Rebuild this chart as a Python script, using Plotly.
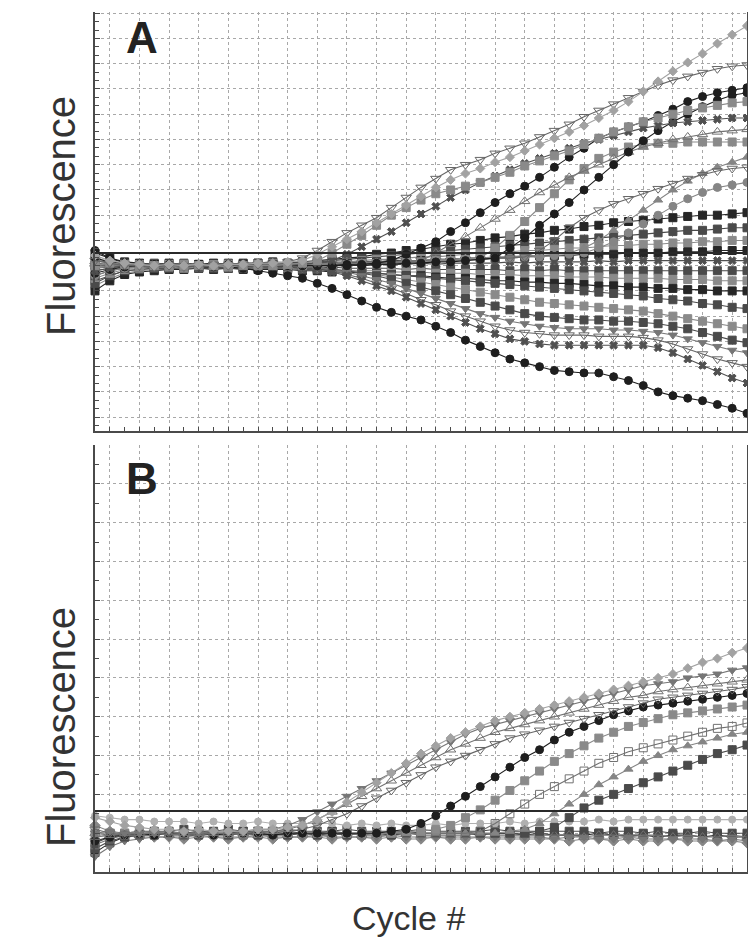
import plotly.graph_objects as go
from plotly.subplots import make_subplots

# ---------------- data ----------------
CYCLES = list(range(1, 46))
THRESHOLD_A = 6.5
THRESHOLD_B = 1.57

# Panel A - rising curves
A_R0 = [6.4, 6.2, 6.1, 6.05, 6.0, 6.05, 6.0, 6.05, 6.0, 6.05, 6.05, 6.1, 6.1, 6.15, 6.2,
        6.45, 6.75, 7.05, 7.35, 7.7, 8.05, 8.4, 8.75, 9.1, 9.4, 9.65, 9.85, 10.1, 10.3, 10.55,
        10.8, 11.05, 11.3, 11.55, 11.85, 12.15, 12.5, 12.9, 13.3, 13.7, 14.05, 14.4, 14.8, 15.15, 15.5]
A_R1 = [6.2, 6.1, 6.0, 6.0, 5.95, 6.0, 6.0, 6.0, 6.05, 6.0, 6.05, 6.05, 6.1, 6.15, 6.3,
        6.6, 6.95, 7.3, 7.6, 7.9, 8.3, 8.7, 9.1, 9.45, 9.8, 10.0, 10.2, 10.45, 10.65, 10.85,
        11.1, 11.35, 11.6, 11.9, 12.15, 12.4, 12.65, 12.9, 13.15, 13.35, 13.5, 13.65, 13.8, 13.9, 13.95]
A_R2 = [6.0, 6.1, 6.05, 6.0, 6.0, 5.95, 6.0, 6.0, 6.0, 5.95, 6.0, 6.0, 6.0, 6.05, 6.1,
        6.2, 6.5, 6.85, 7.2, 7.6, 8.0, 8.3, 8.6, 8.85, 9.0, 9.15, 9.3, 9.5, 9.7, 9.95,
        10.15, 10.35, 10.55, 10.8, 11.05, 11.3, 11.5, 11.7, 11.85, 12.0, 12.15, 12.25, 12.35, 12.45, 12.5]
A_R3 = [5.8, 5.9, 6.0, 6.0, 6.05, 6.0, 6.0, 5.95, 6.0, 6.0, 6.0, 5.95, 6.0, 6.0, 6.05,
        6.1, 6.2, 6.45, 6.75, 7.05, 7.35, 7.7, 8.05, 8.35, 8.7, 9.0, 9.3, 9.55, 9.8, 10.05,
        10.25, 10.45, 10.65, 10.85, 11.0, 11.15, 11.3, 11.45, 11.55, 11.65, 11.7, 11.75, 11.8, 11.85, 11.85]
A_R4 = [6.3, 6.15, 6.05, 6.0, 6.0, 6.05, 6.0, 6.0, 6.0, 6.05, 6.0, 6.0, 6.0, 6.0, 6.0,
        6.0, 6.0, 6.0, 6.05, 6.1, 6.2, 6.45, 6.7, 6.95, 7.35, 7.7, 8.1, 8.5, 8.85, 9.15,
        9.5, 9.9, 10.3, 10.65, 11.05, 11.3, 11.5, 11.7, 11.95, 12.2, 12.5, 12.7, 12.85, 12.95, 13.05]
A_R5 = [5.7, 5.85, 5.95, 6.0, 6.0, 5.95, 6.0, 6.0, 6.0, 6.0, 5.95, 6.0, 6.0, 6.0, 6.0,
        6.0, 6.0, 6.05, 6.0, 6.05, 6.05, 6.1, 6.1, 6.15, 6.15, 6.2, 6.25, 6.3, 6.7, 7.1,
        7.6, 8.05, 8.5, 9.0, 9.5, 10.0, 10.5, 10.95, 11.35, 11.7, 12.0, 12.3, 12.55, 12.75, 12.85]
A_R6 = [6.1, 6.05, 6.0, 6.05, 6.0, 6.0, 6.0, 6.0, 5.95, 6.0, 6.0, 6.0, 6.05, 6.0, 6.0,
        6.0, 6.05, 6.05, 6.1, 6.1, 6.1, 6.15, 6.2, 6.5, 6.85, 7.15, 7.5, 7.85, 8.2, 8.55,
        8.9, 9.2, 9.5, 9.75, 10.0, 10.25, 10.5, 10.7, 10.85, 11.0, 11.1, 11.2, 11.3, 11.35, 11.4]
A_R7 = [5.9, 6.0, 6.0, 5.95, 6.0, 6.0, 6.05, 6.0, 6.0, 6.0, 6.0, 6.05, 6.0, 6.0, 6.0,
        6.05, 6.05, 6.05, 6.1, 6.1, 6.1, 6.15, 6.15, 6.2, 6.2, 6.25, 6.3, 6.7, 7.2, 7.75,
        8.3, 8.85, 9.4, 9.85, 10.25, 10.5, 10.7, 10.8, 10.85, 10.85, 10.9, 10.9, 10.9, 10.9, 10.9]
A_R8 = [6.0, 6.0, 6.05, 6.0, 6.0, 6.0, 5.95, 6.0, 6.0, 6.0, 6.0, 6.0, 6.0, 6.05, 6.0,
        6.05, 6.05, 6.1, 6.1, 6.1, 6.15, 6.15, 6.2, 6.2, 6.2, 6.25, 6.25, 6.3, 6.3, 6.35,
        6.6, 7.0, 7.5, 7.9, 8.2, 8.45, 8.65, 8.85, 9.05, 9.25, 9.45, 9.6, 9.75, 9.85, 9.9]
A_R9 = [6.2, 6.1, 6.0, 6.0, 6.0, 6.0, 6.0, 6.05, 6.0, 6.0, 6.0, 6.0, 6.0, 6.0, 6.05,
        6.05, 6.1, 6.1, 6.1, 6.15, 6.15, 6.2, 6.2, 6.25, 6.25, 6.3, 6.3, 6.35, 6.35, 6.4,
        6.4, 6.45, 6.5, 6.7, 7.0, 7.4, 7.8, 8.2, 8.6, 9.0, 9.35, 9.65, 9.9, 10.1, 10.3]
A_R10 = [5.6, 5.8, 5.9, 5.95, 6.0, 6.0, 6.0, 6.0, 6.0, 6.0, 6.05, 6.0, 6.0, 6.0, 6.0,
         6.0, 6.05, 6.05, 6.1, 6.1, 6.1, 6.15, 6.15, 6.2, 6.2, 6.25, 6.25, 6.3, 6.3, 6.35,
         6.35, 6.4, 6.45, 6.5, 6.7, 6.95, 7.3, 7.65, 8.0, 8.35, 8.65, 8.9, 9.1, 9.2, 9.3]

# Panel A - band around the baseline
A_B1 = [6.5, 6.3, 6.15, 6.1, 6.05, 6.1, 6.05, 6.05, 6.1, 6.05, 6.1, 6.1, 6.15, 6.1, 6.15,
        6.2, 6.25, 6.3, 6.35, 6.45, 6.5, 6.6, 6.65, 6.75, 6.85, 6.9, 7.0, 7.1, 7.15, 7.25,
        7.3, 7.4, 7.45, 7.55, 7.6, 7.7, 7.75, 7.8, 7.85, 7.9, 7.95, 8.0, 8.0, 8.05, 8.1]
A_B2 = [6.2, 6.15, 6.1, 6.05, 6.1, 6.05, 6.1, 6.05, 6.05, 6.1, 6.05, 6.1, 6.1, 6.1, 6.15,
        6.15, 6.2, 6.25, 6.3, 6.35, 6.4, 6.45, 6.5, 6.55, 6.6, 6.65, 6.7, 6.75, 6.8, 6.85,
        6.9, 6.95, 7.0, 7.05, 7.1, 7.15, 7.2, 7.25, 7.3, 7.35, 7.4, 7.4, 7.45, 7.5, 7.5]
A_B3 = [5.9, 6.0, 6.05, 6.05, 6.0, 6.05, 6.05, 6.0, 6.05, 6.05, 6.05, 6.05, 6.1, 6.05, 6.1,
        6.1, 6.15, 6.15, 6.2, 6.25, 6.25, 6.3, 6.35, 6.35, 6.4, 6.45, 6.5, 6.5, 6.55, 6.6,
        6.6, 6.65, 6.7, 6.7, 6.75, 6.8, 6.8, 6.85, 6.85, 6.9, 6.9, 6.95, 6.95, 7.0, 7.0]
A_B4 = [6.0, 6.0, 6.0, 6.0, 6.05, 6.0, 6.0, 6.05, 6.0, 6.0, 6.05, 6.0, 6.05, 6.05, 6.05,
        6.1, 6.1, 6.1, 6.15, 6.15, 6.2, 6.2, 6.2, 6.25, 6.25, 6.3, 6.3, 6.3, 6.35, 6.35,
        6.4, 6.4, 6.4, 6.45, 6.45, 6.45, 6.5, 6.5, 6.5, 6.55, 6.55, 6.55, 6.6, 6.6, 6.6]
A_B5 = [5.8, 5.9, 5.95, 6.0, 5.95, 6.0, 5.95, 6.0, 6.0, 5.95, 6.0, 6.0, 5.95, 6.0, 6.0,
        6.0, 6.0, 6.05, 6.0, 6.05, 6.05, 6.05, 6.1, 6.05, 6.1, 6.1, 6.1, 6.1, 6.15, 6.1,
        6.15, 6.15, 6.15, 6.15, 6.2, 6.15, 6.2, 6.2, 6.2, 6.2, 6.2, 6.2, 6.2, 6.2, 6.2]
A_B6 = [5.4, 5.6, 5.8, 5.85, 5.9, 5.9, 5.95, 5.9, 5.95, 5.95, 5.9, 5.95, 5.95, 5.9, 5.95,
        5.9, 5.95, 5.9, 5.9, 5.9, 5.9, 5.85, 5.9, 5.85, 5.85, 5.85, 5.85, 5.85, 5.8, 5.85,
        5.8, 5.85, 5.8, 5.8, 5.8, 5.8, 5.8, 5.8, 5.8, 5.8, 5.8, 5.8, 5.8, 5.8, 5.8]
A_B7 = [5.2, 5.5, 5.7, 5.8, 5.85, 5.85, 5.9, 5.9, 5.9, 5.9, 5.9, 5.9, 5.9, 5.9, 5.85,
        5.85, 5.85, 5.8, 5.8, 5.8, 5.75, 5.75, 5.75, 5.7, 5.7, 5.7, 5.65, 5.65, 5.65, 5.6,
        5.6, 5.6, 5.55, 5.55, 5.55, 5.5, 5.5, 5.5, 5.5, 5.45, 5.45, 5.45, 5.4, 5.4, 5.4]
A_B8 = [5.0, 5.4, 5.65, 5.75, 5.8, 5.85, 5.85, 5.9, 5.85, 5.9, 5.85, 5.85, 5.85, 5.85, 5.8,
        5.8, 5.75, 5.75, 5.7, 5.7, 5.65, 5.6, 5.6, 5.55, 5.5, 5.5, 5.45, 5.4, 5.4, 5.35,
        5.35, 5.3, 5.3, 5.25, 5.2, 5.2, 5.15, 5.15, 5.1, 5.1, 5.05, 5.05, 5.0, 5.0, 5.0]

# Panel A - descending curves
A_D1 = [6.6, 6.3, 6.1, 6.05, 6.0, 6.0, 6.0, 5.95, 5.95, 5.95, 5.9, 5.8, 5.7, 5.6, 5.5,
        5.3, 5.1, 4.85, 4.6, 4.35, 4.15, 4.0, 3.85, 3.6, 3.35, 3.05, 2.8, 2.55, 2.3, 2.15,
        2.0, 1.85, 1.8, 1.75, 1.75, 1.6, 1.45, 1.25, 1.0, 0.85, 0.75, 0.65, 0.5, 0.35, 0.15]
A_D2 = [6.1, 6.0, 6.0, 6.0, 6.0, 6.0, 6.0, 6.0, 6.0, 5.95, 6.0, 5.95, 5.95, 5.95, 5.9,
        5.9, 5.75, 5.6, 5.4, 5.2, 5.0, 4.75, 4.5, 4.25, 4.0, 3.75, 3.5, 3.3, 3.1, 3.0,
        2.9, 2.85, 2.85, 2.85, 2.85, 2.85, 2.85, 2.85, 2.75, 2.55, 2.3, 2.05, 1.8, 1.55, 1.35]
A_D3 = [5.9, 5.95, 6.0, 6.0, 6.0, 5.95, 6.0, 6.0, 5.95, 6.0, 5.95, 6.0, 5.95, 5.95, 5.9,
        5.85, 5.8, 5.65, 5.5, 5.3, 5.1, 4.9, 4.65, 4.45, 4.2, 4.0, 3.8, 3.6, 3.45, 3.35,
        3.3, 3.25, 3.25, 3.25, 3.2, 3.2, 3.2, 3.15, 3.05, 2.9, 2.7, 2.5, 2.3, 2.15, 2.0]
A_D4 = [6.0, 6.05, 6.0, 6.0, 5.95, 6.0, 6.0, 6.0, 6.0, 5.95, 6.0, 6.0, 5.95, 5.95, 5.95,
        5.9, 5.85, 5.75, 5.6, 5.45, 5.3, 5.1, 4.9, 4.7, 4.5, 4.3, 4.1, 3.95, 3.8, 3.7,
        3.6, 3.55, 3.5, 3.5, 3.5, 3.45, 3.45, 3.4, 3.35, 3.25, 3.1, 2.95, 2.8, 2.65, 2.55]
A_D5 = [5.6, 5.8, 5.9, 5.95, 5.95, 5.95, 6.0, 5.95, 5.95, 6.0, 5.95, 5.95, 5.95, 5.95, 5.9,
        5.9, 5.85, 5.8, 5.7, 5.6, 5.45, 5.3, 5.15, 5.0, 4.85, 4.7, 4.55, 4.4, 4.25, 4.1,
        4.0, 3.95, 3.9, 3.85, 3.85, 3.8, 3.8, 3.75, 3.7, 3.6, 3.5, 3.35, 3.2, 3.05, 2.95]
A_D6 = [5.5, 5.7, 5.85, 5.9, 5.95, 5.95, 5.9, 5.95, 5.95, 5.95, 5.95, 5.9, 5.95, 5.9, 5.9,
        5.9, 5.85, 5.8, 5.75, 5.65, 5.55, 5.45, 5.35, 5.25, 5.15, 5.05, 4.95, 4.85, 4.75, 4.65,
        4.55, 4.5, 4.45, 4.4, 4.35, 4.3, 4.25, 4.2, 4.1, 4.0, 3.9, 3.8, 3.7, 3.6, 3.5]
A_D7 = [5.3, 5.6, 5.8, 5.85, 5.9, 5.9, 5.9, 5.9, 5.9, 5.9, 5.9, 5.9, 5.9, 5.9, 5.85,
        5.85, 5.8, 5.8, 5.75, 5.7, 5.65, 5.6, 5.55, 5.5, 5.45, 5.4, 5.35, 5.3, 5.25, 5.2,
        5.15, 5.1, 5.05, 5.0, 4.95, 4.9, 4.85, 4.8, 4.7, 4.65, 4.6, 4.5, 4.45, 4.35, 4.3]

# Panel B - amplifying curves
B_G0 = [1.4, 1.3, 1.2, 1.15, 1.1, 1.1, 1.05, 1.1, 1.05, 1.05, 1.05, 1.1, 1.1, 1.15, 1.2,
        1.35, 1.55, 1.8, 2.05, 2.3, 2.55, 2.8, 3.05, 3.25, 3.45, 3.6, 3.75, 3.9, 4.0, 4.1,
        4.2, 4.3, 4.4, 4.5, 4.6, 4.7, 4.8, 4.9, 5.0, 5.1, 5.25, 5.4, 5.5, 5.65, 5.77]
B_G1 = [1.0, 1.05, 1.0, 1.0, 1.0, 1.05, 1.0, 1.0, 1.05, 1.05, 1.05, 1.1, 1.1, 1.2, 1.35,
        1.55, 1.75, 1.95, 2.15, 2.35, 2.55, 2.75, 2.95, 3.15, 3.35, 3.55, 3.7, 3.8, 3.9, 4.0,
        4.1, 4.2, 4.3, 4.4, 4.5, 4.6, 4.7, 4.8, 4.85, 4.9, 5.0, 5.05, 5.1, 5.2, 5.26]
B_G2 = [0.9, 0.95, 1.0, 1.0, 1.0, 0.95, 1.0, 1.0, 1.0, 1.0, 1.0, 1.05, 1.05, 1.1, 1.2,
        1.35, 1.55, 1.75, 1.95, 2.15, 2.35, 2.55, 2.75, 2.95, 3.15, 3.3, 3.45, 3.6, 3.7, 3.8,
        3.9, 4.0, 4.1, 4.2, 4.3, 4.4, 4.5, 4.55, 4.65, 4.7, 4.75, 4.8, 4.85, 4.9, 4.95]
B_G3 = [1.1, 1.0, 0.95, 1.0, 1.0, 1.0, 1.0, 0.95, 1.0, 1.0, 1.0, 1.0, 1.05, 1.05, 1.1,
        1.2, 1.35, 1.5, 1.7, 1.9, 2.1, 2.3, 2.5, 2.7, 2.85, 3.0, 3.15, 3.3, 3.45, 3.55,
        3.65, 3.75, 3.85, 3.95, 4.05, 4.15, 4.25, 4.35, 4.45, 4.5, 4.55, 4.6, 4.65, 4.7, 4.77]
B_G4 = [0.8, 0.9, 0.95, 1.0, 0.95, 1.0, 1.0, 1.0, 0.95, 1.0, 1.0, 1.0, 0.95, 1.0, 1.0,
        1.0, 1.0, 1.0, 1.0, 1.0, 1.05, 1.1, 1.25, 1.45, 1.7, 1.95, 2.2, 2.45, 2.7, 2.95,
        3.15, 3.4, 3.6, 3.75, 3.9, 4.05, 4.15, 4.25, 4.3, 4.35, 4.4, 4.45, 4.5, 4.55, 4.6]
B_G5 = [1.0, 1.0, 1.0, 1.05, 1.0, 1.0, 1.0, 1.0, 1.0, 1.0, 1.0, 1.0, 1.0, 1.0, 1.0,
        1.0, 1.0, 1.0, 1.0, 1.0, 1.0, 1.05, 1.05, 1.1, 1.2, 1.4, 1.6, 1.85, 2.1, 2.35,
        2.6, 2.85, 3.05, 3.25, 3.45, 3.6, 3.75, 3.85, 3.95, 4.05, 4.1, 4.15, 4.2, 4.25, 4.3]
B_G6 = [0.7, 0.85, 0.95, 0.95, 1.0, 1.0, 0.95, 1.0, 1.0, 1.0, 0.95, 1.0, 1.0, 1.0, 1.0,
        1.0, 1.0, 1.0, 0.95, 1.0, 1.0, 1.0, 1.0, 1.0, 1.0, 1.0, 1.05, 1.25, 1.5, 1.75,
        2.0, 2.2, 2.4, 2.6, 2.8, 2.95, 3.1, 3.2, 3.3, 3.4, 3.5, 3.6, 3.7, 3.75, 3.84]
B_G7 = [0.9, 0.95, 1.0, 1.0, 1.0, 1.0, 1.0, 1.0, 0.95, 1.0, 1.0, 1.0, 1.0, 1.0, 1.0,
        1.0, 1.0, 1.0, 1.0, 1.0, 1.0, 1.0, 1.0, 1.0, 1.0, 1.0, 1.0, 1.0, 1.05, 1.1,
        1.25, 1.5, 1.75, 2.0, 2.25, 2.45, 2.65, 2.85, 3.0, 3.15, 3.25, 3.35, 3.45, 3.55, 3.6]
B_G8 = [0.6, 0.8, 0.9, 0.95, 0.95, 1.0, 0.95, 0.95, 1.0, 0.95, 1.0, 0.95, 1.0, 0.95, 1.0,
        0.95, 1.0, 0.95, 1.0, 1.0, 0.95, 1.0, 1.0, 1.0, 1.0, 1.0, 1.0, 1.0, 1.0, 1.0,
        1.05, 1.15, 1.4, 1.65, 1.85, 2.0, 2.15, 2.3, 2.45, 2.6, 2.75, 2.9, 3.05, 3.15, 3.27]

# Panel B - flat (non-amplifying) curves
B_F0 = [1.45, 1.4, 1.35, 1.35, 1.3, 1.3, 1.3, 1.25, 1.3, 1.25, 1.25, 1.3, 1.25, 1.25, 1.25,
        1.25, 1.25, 1.2, 1.25, 1.2, 1.25, 1.2, 1.2, 1.25, 1.2, 1.25, 1.25, 1.25, 1.3, 1.25,
        1.3, 1.3, 1.3, 1.3, 1.35, 1.3, 1.35, 1.35, 1.35, 1.35, 1.35, 1.35, 1.35, 1.35, 1.35]
B_F1 = [0.5, 0.75, 0.9, 0.95, 1.0, 1.0, 1.0, 1.05, 1.0, 1.0, 1.05, 1.0, 1.0, 1.05, 1.0,
        1.0, 1.05, 1.0, 1.0, 1.0, 1.0, 1.05, 1.0, 1.0, 1.0, 1.0, 0.95, 1.0, 1.0, 0.95,
        1.0, 0.95, 0.95, 0.95, 1.0, 0.95, 0.95, 0.95, 0.9, 0.95, 0.95, 0.9, 0.95, 0.9, 0.9]
B_F2 = [1.2, 1.05, 0.95, 0.9, 0.9, 0.9, 0.85, 0.9, 0.9, 0.85, 0.9, 0.9, 0.85, 0.9, 0.9,
        0.9, 0.85, 0.9, 0.9, 0.85, 0.9, 0.85, 0.85, 0.9, 0.85, 0.85, 0.9, 0.85, 0.85, 0.85,
        0.85, 0.85, 0.8, 0.85, 0.85, 0.8, 0.85, 0.8, 0.8, 0.85, 0.8, 0.8, 0.8, 0.8, 0.75]
B_F3 = [0.75, 0.9, 1.0, 1.05, 1.05, 1.05, 1.1, 1.05, 1.05, 1.1, 1.05, 1.05, 1.05, 1.1, 1.05,
        1.05, 1.05, 1.1, 1.05, 1.05, 1.05, 1.05, 1.1, 1.05, 1.05, 1.05, 1.05, 1.1, 1.05, 1.05,
        1.05, 1.05, 1.05, 1.05, 1.0, 1.05, 1.05, 1.0, 1.05, 1.0, 1.0, 1.05, 1.0, 1.0, 1.0]
B_F4 = [1.0, 0.95, 0.95, 0.95, 1.0, 0.95, 0.95, 1.0, 0.95, 0.95, 1.0, 0.95, 0.95, 0.95, 1.0,
        0.95, 0.95, 1.0, 0.95, 0.95, 0.95, 1.0, 0.95, 0.95, 0.95, 0.95, 1.0, 0.95, 0.95, 0.95,
        0.95, 0.95, 0.95, 0.9, 0.95, 0.95, 0.9, 0.95, 0.95, 0.9, 0.95, 0.9, 0.9, 0.95, 0.9]
B_F5 = [0.4, 0.65, 0.8, 0.85, 0.9, 0.9, 0.9, 0.95, 0.9, 0.9, 0.9, 0.95, 0.9, 0.9, 0.9,
        0.95, 0.9, 0.9, 0.9, 0.9, 0.95, 0.9, 0.9, 0.9, 0.9, 0.9, 0.9, 0.9, 0.9, 0.9,
        0.9, 0.85, 0.9, 0.9, 0.85, 0.85, 0.9, 0.85, 0.85, 0.85, 0.85, 0.85, 0.8, 0.85, 0.8]

A_SERIES = [
    (A_B1, "square_k"), (A_B2, "square_d"), (A_B3, "square_g"), (A_B4, "square_k"),
    (A_B5, "x_d"), (A_B6, "square_d"), (A_B7, "square_g"), (A_B8, "square_k"),
    (A_D7, "square_d"), (A_D6, "square_g"), (A_D5, "square_d"), (A_D4, "tridown_g"),
    (A_D3, "tridown_open"), (A_D2, "x_d"), (A_D1, "circle_k"),
    (A_R10, "circle_g"), (A_R9, "triup_g"), (A_R8, "tridown_open"), (A_R7, "square_g"),
    (A_R6, "triup_open"), (A_R5, "circle_k"), (A_R4, "circle_k"), (A_R3, "x_d"),
    (A_R2, "square_g"), (A_R1, "tridown_open"), (A_R0, "diamond_l"),
]
B_SERIES = [
    (B_F1, "square_k"), (B_F2, "diamond_g"), (B_F3, "square_d"), (B_F4, "triup_open"),
    (B_F5, "tridown_g"), (B_F0, "circle_l"),
    (B_G8, "square_d"), (B_G7, "triup_g"), (B_G6, "square_open"), (B_G5, "square_g"),
    (B_G4, "circle_k"), (B_G3, "tridown_open"), (B_G2, "triup_open"), (B_G1, "tridown_g"),
    (B_G0, "diamond_l"),
]

# ---------------- styles ----------------
STYLES = {
    "circle_k": ("circle", "#1e1e1e", 8),
    "circle_g": ("circle", "#858585", 8),
    "circle_l": ("circle", "#b0b0b0", 7),
    "square_k": ("square", "#262626", 8),
    "square_d": ("square", "#4a4a4a", 8),
    "square_g": ("square", "#8a8a8a", 8),
    "square_open": ("square-open", "#707070", 8),
    "tridown_open": ("triangle-down-open", "#666666", 9),
    "triup_open": ("triangle-up-open", "#727272", 9),
    "tridown_g": ("triangle-down", "#767676", 8),
    "triup_g": ("triangle-up", "#858585", 8),
    "diamond_l": ("diamond", "#a2a2a2", 7),
    "diamond_g": ("diamond", "#868686", 8),
    "x_d": ("x", "#505050", 7),
}

FONT = "Liberation Sans, Arial, Helvetica, sans-serif"

fig = make_subplots(rows=2, cols=1)


def add_series(series, row):
    for vals, key in series:
        sym, col, size = STYLES[key]
        fig.add_trace(
            go.Scatter(
                x=CYCLES, y=vals, mode="lines+markers",
                line=dict(color=col, width=1.1),
                marker=dict(symbol=sym, color=col, size=size,
                            line=dict(color=col, width=1)),
                cliponaxis=False, showlegend=False, hoverinfo="skip",
            ),
            row=row, col=1,
        )


add_series(A_SERIES, 1)
add_series(B_SERIES, 2)

fig.add_hline(y=THRESHOLD_A, row=1, col=1, line=dict(color="#2a2a2a", width=2))
fig.add_hline(y=THRESHOLD_B, row=2, col=1, line=dict(color="#2a2a2a", width=2))

# The page shows the figure with an 8 px body margin; the figure is sized so that
# the plot areas land at screen pixels x 95..747, A: y 12..431, B: y 445..872.
OFF = 8
FIG_W, FIG_H = 756 - OFF, 942 - OFF
M_L, M_R, M_T = 95 - OFF, FIG_W - (747 - OFF), 12 - OFF
M_B = FIG_H - (872 - OFF)
H_PLOT = 872 - 12.0
W_PLOT = 747 - 95.0
A_DOM = [(872 - 431) / H_PLOT, 1.0]
B_DOM = [0.0, (872 - 445) / H_PLOT]

xcommon = dict(
    range=[1, 45], showline=True, linecolor="#4a4a4a", linewidth=2,
    showgrid=True, gridcolor="#a8a8a8", griddash="dot", gridwidth=1,
    tick0=0, dtick=2, ticks="inside", ticklen=4, tickcolor="#4a4a4a",
    minor=dict(dtick=1, ticks="inside", ticklen=4, tickcolor="#4a4a4a", showgrid=False),
    showticklabels=False, zeroline=False, domain=[0, 1], mirror=False,
)
ycommon = dict(
    showline=True, linecolor="#4a4a4a", linewidth=2, mirror=True,
    showgrid=True, gridcolor="#a8a8a8", griddash="dot", gridwidth=1,
    ticks="inside", ticklen=5, tickcolor="#4a4a4a",
    showticklabels=False, zeroline=False,
)

fig.update_xaxes(**xcommon, row=1, col=1)
fig.update_xaxes(**xcommon, row=2, col=1)
fig.update_yaxes(**ycommon, range=[-0.55, 16.05], tick0=0, dtick=1, domain=A_DOM,
                 minor=dict(dtick=1 / 3, ticks="inside", ticklen=4,
                            tickcolor="#4a4a4a", showgrid=False),
                 row=1, col=1)
fig.update_yaxes(**ycommon, range=[0, 11], tick0=0, dtick=1, domain=B_DOM,
                 minor=dict(dtick=0.5, ticks="inside", ticklen=4,
                            tickcolor="#4a4a4a", showgrid=False),
                 row=2, col=1)


def px_x(px):
    return (px - 95) / W_PLOT


def px_y(py):
    return (872 - py) / H_PLOT


ann = []
ann.append(dict(text="<b>A</b>", x=px_x(124), y=px_y(38), xanchor="left", yanchor="middle",
                font=dict(size=44, color="#222222", family=FONT)))
ann.append(dict(text="<b>B</b>", x=px_x(124), y=px_y(478), xanchor="left", yanchor="middle",
                font=dict(size=44, color="#222222", family=FONT)))
ann.append(dict(text="Fluorescence", x=px_x(61), y=px_y(216), textangle=-90,
                xanchor="center", yanchor="middle",
                font=dict(size=40, color="#333333", family=FONT)))
ann.append(dict(text="Fluorescence", x=px_x(61), y=px_y(727), textangle=-90,
                xanchor="center", yanchor="middle",
                font=dict(size=40, color="#333333", family=FONT)))
ann.append(dict(text="Cycle #", x=px_x(408), y=px_y(918),
                xanchor="center", yanchor="middle",
                font=dict(size=34, color="#333333", family=FONT)))
for a in ann:
    a.update(xref="paper", yref="paper", showarrow=False)

fig.update_layout(
    width=FIG_W, height=FIG_H,
    margin=dict(l=M_L, r=M_R, t=M_T, b=M_B),
    paper_bgcolor="white", plot_bgcolor="white",
    annotations=ann, showlegend=False,
    font=dict(family=FONT),
)

fig.write_html("out.html")
